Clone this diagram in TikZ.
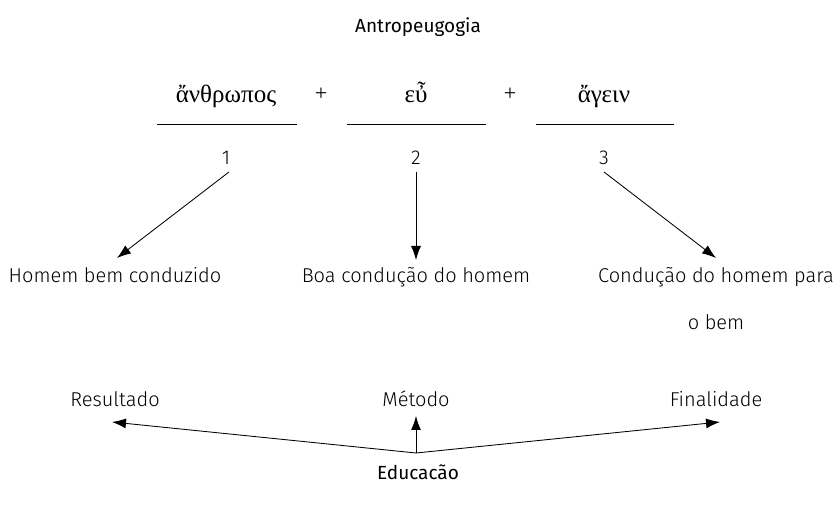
\documentclass[tikz,border=0pt]{standalone}
\usepackage{fontspec}
\setmainfont{Fira Sans Light}
\newfontfamily\greekfont{Liberation Serif}
\newfontfamily\boldish{Fira Sans}
\usetikzlibrary{arrows.meta}
\begin{document}
\begin{tikzpicture}[x=1pt,y=-1pt,
  lbl/.style={font=\fontsize{20}{22}\selectfont, inner sep=0pt, anchor=base},
  grk/.style={font=\greekfont\fontsize{25}{27}\selectfont, inner sep=0pt, anchor=base},
  plus/.style={font=\greekfont\fontsize{22}{24}\selectfont, inner sep=0pt, anchor=base},
  arr/.style={-{Latex[length=14pt,width=10pt]}, line width=0.85pt},
  bar/.style={line width=0.9pt}]
\useasboundingbox (0,0) rectangle (836,510);
\node[lbl, font=\boldish\fontsize{19}{21}\selectfont] (title) at (418,33) {Antropeugogia};
\node[grk] (w1) at (226,103) {ἄνθρωπος};
\node[plus] (p1) at (321,101) {+};
\node[grk] (w2) at (416,103) {εὖ};
\node[plus] (p2) at (510,101) {+};
\node[grk] (w3) at (604,103) {ἄγειν};
\coordinate (l1a) at (157,124); \coordinate (l1b) at (297,124);
\coordinate (l2a) at (347,124); \coordinate (l2b) at (486,124);
\coordinate (l3a) at (536,124); \coordinate (l3b) at (674,124);
\draw[bar] (l1a) -- (l1b);
\draw[bar] (l2a) -- (l2b);
\draw[bar] (l3a) -- (l3b);
\node[lbl] (n1) at (226,165) {1};
\node[lbl] (n2) at (416,165) {2};
\node[lbl] (n3) at (604,165) {3};
\node[lbl] (h1) at (115,283) {Homem bem conduzido};
\node[lbl] (h2) at (416,283) {Boa condução do homem};
\node[lbl] (h3) at (716,283) {Condução do homem para};
\node[lbl] (h3b) at (716,330) {o bem};
\coordinate (a1s) at (229,172); \coordinate (a1e) at (117,258);
\coordinate (a2s) at (416,172); \coordinate (a2e) at (416,260);
\coordinate (a3s) at (604,172); \coordinate (a3e) at (716,258);
\draw[arr] (a1s) -- (a1e);
\draw[arr] (a2s) -- (a2e);
\draw[arr] (a3s) -- (a3e);
\node[lbl] (r) at (115,407) {Resultado};
\node[lbl] (m) at (416,407) {Método};
\node[lbl] (f) at (716,407) {Finalidade};
\node[lbl, font=\boldish\fontsize{19}{21}\selectfont] (e) at (418,480) {Educacão};
\coordinate (eo) at (416,453);
\coordinate (re) at (112,422);
\coordinate (me) at (416,416);
\coordinate (fe) at (720,422);
\draw[arr] (eo) -- (re);
\draw[arr] (eo) -- (me);
\draw[arr] (eo) -- (fe);
\end{tikzpicture}
\end{document}
